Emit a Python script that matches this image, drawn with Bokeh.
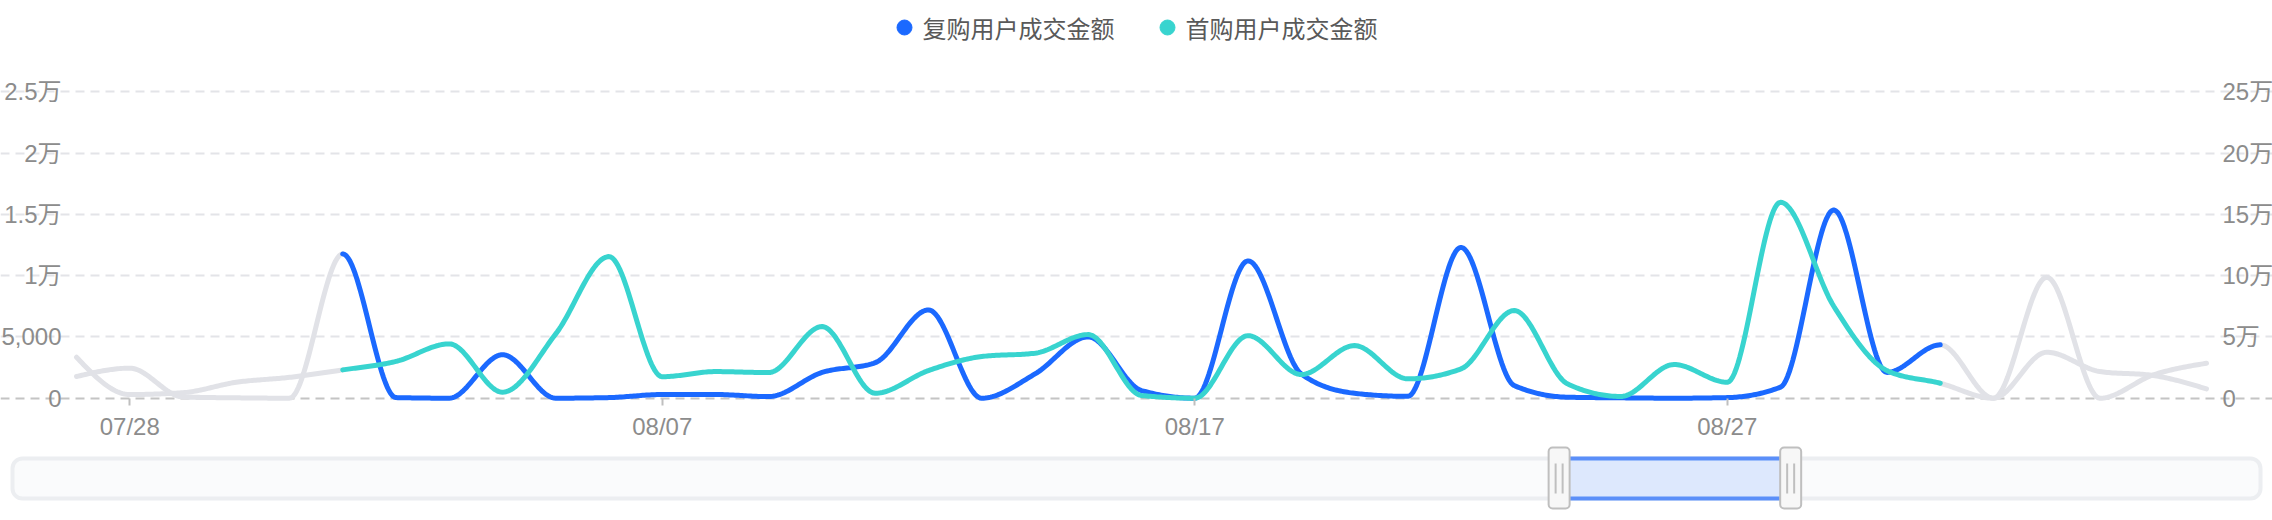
import numpy as np
from bokeh.plotting import figure
from bokeh.models import Range1d, LinearAxis, FixedTicker, Grid
from bokeh.core.properties import value
from bokeh.embed import file_html
from bokeh.resources import INLINE

# ---------------- data ----------------
dates = ["07/27", "07/28", "07/29", "07/30", "07/31",
         "08/01", "08/02", "08/03", "08/04", "08/05", "08/06", "08/07", "08/08", "08/09", "08/10",
         "08/11", "08/12", "08/13", "08/14", "08/15", "08/16", "08/17", "08/18", "08/19", "08/20",
         "08/21", "08/22", "08/23", "08/24", "08/25", "08/26", "08/27", "08/28", "08/29", "08/30",
         "08/31", "09/01", "09/02", "09/03", "09/04", "09/05"]

repeat_amount = [1766, 2450, 100, 30, 0,
                 11766, 50, 0, 3550, 0, 50, 300, 300, 130, 2100,
                 2900, 7200, 0, 1980, 5000, 625, 0, 11200, 1980, 400,
                 150, 12300, 1030, 80, 30, 0, 50, 900, 15350, 2100,
                 4350, 0, 9860, 0, 1900, 2850]

first_amount = [3342, 300, 450, 1300, 1700,
                2310, 3000, 4430, 490, 5245, 11550, 1750, 2170, 2090, 5840,
                400, 2255, 3400, 3670, 5190, 220, 0, 5100, 1930, 4290,
                1580, 2390, 7150, 1170, 140, 2745, 1300, 15980, 7500, 2250,
                1220, 0, 3750, 2170, 1850, 760]

series_names = ["复购用户成交金额", "首购用户成交金额"]
x_tick_dates = ["07/28", "08/07", "08/17", "08/27"]
left_ticks = [0, 5000, 10000, 15000, 20000, 25000]
left_tick_labels = ["0", "5,000", "1万", "1.5万", "2万", "2.5万"]
right_ticks = [0, 50000, 100000, 150000, 200000, 250000]
right_tick_labels = ["0", "5万", "10万", "15万", "20万", "25万"]
right_scale = 10
active_start, active_end = "08/01", "08/31"
slider_start, slider_end = 0.688, 0.791

# ---------------- layout / styles ----------------
W, H = 2272, 520
PLOT_L, PLOT_R = 76, 2206        # pixel x of first / last date
ZERO_Y, TOP_Y = 397.7, 91.2      # pixel y of 0 and of the top tick
BLUE = "#1b69ff"
TEAL = "#38d4cf"
GRAY = "#e1e2e7"
LINE_W = 5
TICK_COLOR = "#8c8c8c"
FONT = "Liberation Sans, Noto Sans CJK SC"
CJK = "Noto Sans CJK SC"

n = len(dates)
dpx = (PLOT_R - PLOT_L) / (n - 1)
vpp = left_ticks[-1] / (ZERO_Y - TOP_Y)
x_start = -PLOT_L / dpx
x_end = (n - 1) + (W - PLOT_R) / dpx
y_start = -(H - ZERO_Y) * vpp
y_end = left_ticks[-1] + TOP_Y * vpp


def px_x(px):
    return x_start + px / dpx


def px_y(py):
    return y_end - py * vpp


def monotone_curve(xv, yv, k=30):
    """Monotone cubic (d3 curveMonotoneX style) path through the points."""
    x = np.asarray(xv, float)
    y = np.asarray(yv, float)
    h = np.diff(x)
    s = np.diff(y) / h
    m = np.zeros_like(y)
    for i in range(1, len(x) - 1):
        s0, s1 = s[i - 1], s[i]
        pp = (s0 * h[i] + s1 * h[i - 1]) / (h[i - 1] + h[i])
        m[i] = (np.sign(s0) + np.sign(s1)) * min(abs(s0), abs(s1), 0.5 * abs(pp))
    m[0] = (3 * s[0] - m[1]) / 2
    m[-1] = (3 * s[-1] - m[-2]) / 2
    xs, ys = [], []
    t = np.linspace(0, 1, k, endpoint=False)
    h00 = 2 * t**3 - 3 * t**2 + 1
    h10 = t**3 - 2 * t**2 + t
    h01 = -2 * t**3 + 3 * t**2
    h11 = t**3 - t**2
    for i in range(len(x) - 1):
        xs.append(x[i] + t * h[i])
        ys.append(h00 * y[i] + h10 * h[i] * m[i] + h01 * y[i + 1] + h11 * h[i] * m[i + 1])
    xs.append([x[-1]])
    ys.append([y[-1]])
    return np.concatenate(xs), np.concatenate(ys)


idx = list(range(n))
i0 = dates.index(active_start)
i1 = dates.index(active_end)

p = figure(width=W, height=H,
           x_range=Range1d(x_start, x_end), y_range=Range1d(y_start, y_end),
           toolbar_location=None, output_backend="svg",
           min_border=0, min_border_left=0, min_border_right=0,
           min_border_top=0, min_border_bottom=0)
p.outline_line_color = None
p.background_fill_color = "white"
p.border_fill_color = "white"
p.extra_y_ranges = {"right": Range1d(y_start * right_scale, y_end * right_scale)}

# grid (limited to the data span)
p.xgrid.visible = False
p.ygrid.ticker = FixedTicker(ticks=left_ticks[1:])
p.ygrid.bounds = (0, n - 1)
p.ygrid.grid_line_color = "#e3e4e8"
p.ygrid.grid_line_dash = "9 6"
p.ygrid.grid_line_width = 2
zero_grid = Grid(dimension=1, ticker=FixedTicker(ticks=[0]), bounds=(0, n - 1),
                 grid_line_color="#c4c4c4", grid_line_dash="9 6", grid_line_width=2)
p.add_layout(zero_grid)

# left axis
ya = p.yaxis[0]
ya.fixed_location = 0
ya.ticker = FixedTicker(ticks=left_ticks)
ya.major_label_overrides = {t: l for t, l in zip(left_ticks, left_tick_labels)}
ya.axis_line_color = None
ya.major_tick_line_color = None
ya.minor_tick_line_color = None
ya.major_tick_out = 0
ya.major_tick_in = 0
ya.major_label_standoff = 15
ya.major_label_text_font_size = "24px"
ya.major_label_text_color = TICK_COLOR
ya.major_label_text_font = FONT

# right axis
ra = LinearAxis(y_range_name="right", ticker=FixedTicker(ticks=right_ticks), fixed_location=n - 1)
ra.major_label_overrides = {t: l for t, l in zip(right_ticks, right_tick_labels)}
ra.axis_line_color = None
ra.major_tick_line_color = None
ra.minor_tick_line_color = None
ra.major_tick_out = 0
ra.major_tick_in = 0
ra.major_label_standoff = 16
ra.major_label_text_font_size = "24px"
ra.major_label_text_color = TICK_COLOR
ra.major_label_text_font = FONT
p.add_layout(ra, "right")

# x axis
xa = p.xaxis[0]
xa.fixed_location = 0
xa.ticker = FixedTicker(ticks=[dates.index(d) for d in x_tick_dates])
xa.major_label_overrides = {dates.index(d): d for d in x_tick_dates}
xa.axis_line_color = None
xa.major_tick_line_color = "#bfbfbf"
xa.major_tick_line_width = 2
xa.major_tick_in = 0
xa.major_tick_out = 7
xa.minor_tick_line_color = None
xa.major_label_standoff = 8
xa.major_label_text_font_size = "24px"
xa.major_label_text_color = TICK_COLOR
xa.major_label_text_font = FONT

# lines
curves = [monotone_curve(idx, vals) for vals in (repeat_amount, first_amount)]
for sx, sy in curves:
    left = sx <= i0
    right = sx >= i1
    p.line(sx[left], sy[left], line_color=GRAY, line_width=LINE_W, line_cap="round", line_join="round")
    p.line(sx[right], sy[right], line_color=GRAY, line_width=LINE_W, line_cap="round", line_join="round")
for (sx, sy), col in zip(curves, (BLUE, TEAL)):
    mid = (sx >= i0) & (sx <= i1)
    p.line(sx[mid], sy[mid], line_color=col, line_width=LINE_W, line_cap="round", line_join="round")

# legend (top centre)
leg_marker_px = [904, 1167]
leg_y_px = 27
p.scatter(x=[px_x(v) for v in leg_marker_px], y=[px_y(leg_y_px)] * 2, marker="circle",
          size=15, fill_color=[BLUE, TEAL], line_color=[BLUE, TEAL])
p.text(x=[px_x(v + 18) for v in leg_marker_px], y=[px_y(leg_y_px)] * 2, text=series_names,
       text_font=value(CJK), text_font_size="24px", text_color="#595959",
       text_align="left", text_baseline="middle")

# slider (decoration)
TR_L, TR_R, TR_TOP, TR_BOT = 12, 2260, 458, 498
p.quad(left=px_x(TR_L), right=px_x(TR_R), top=px_y(TR_TOP), bottom=px_y(TR_BOT), border_radius=10,
       fill_color="#fafbfc", line_color="#eceef1", line_width=4)
c1 = TR_L + slider_start * (TR_R - TR_L)
c2 = TR_L + slider_end * (TR_R - TR_L)
p.quad(left=px_x(c1), right=px_x(c2), top=px_y(TR_TOP), bottom=px_y(TR_BOT),
       fill_color="#dde8fd", line_color=None)
p.segment(x0=[px_x(c1)] * 2, y0=[px_y(TR_TOP), px_y(TR_BOT)], x1=[px_x(c2)] * 2,
          y1=[px_y(TR_TOP), px_y(TR_BOT)], line_color="#5b8ff9", line_width=4)
for c in (c1, c2):
    p.quad(left=px_x(c - 10.5), right=px_x(c + 10.5), top=px_y(447), bottom=px_y(508), border_radius=4,
           fill_color="#f7f7f7", line_color="#bfbfbf", line_width=2)
    p.segment(x0=[px_x(c - 3.5), px_x(c + 3.5)], y0=[px_y(463)] * 2,
              x1=[px_x(c - 3.5), px_x(c + 3.5)], y1=[px_y(493)] * 2,
              line_color="#bfbfbf", line_width=2)

open("out.html", "w").write(file_html(p, INLINE))
